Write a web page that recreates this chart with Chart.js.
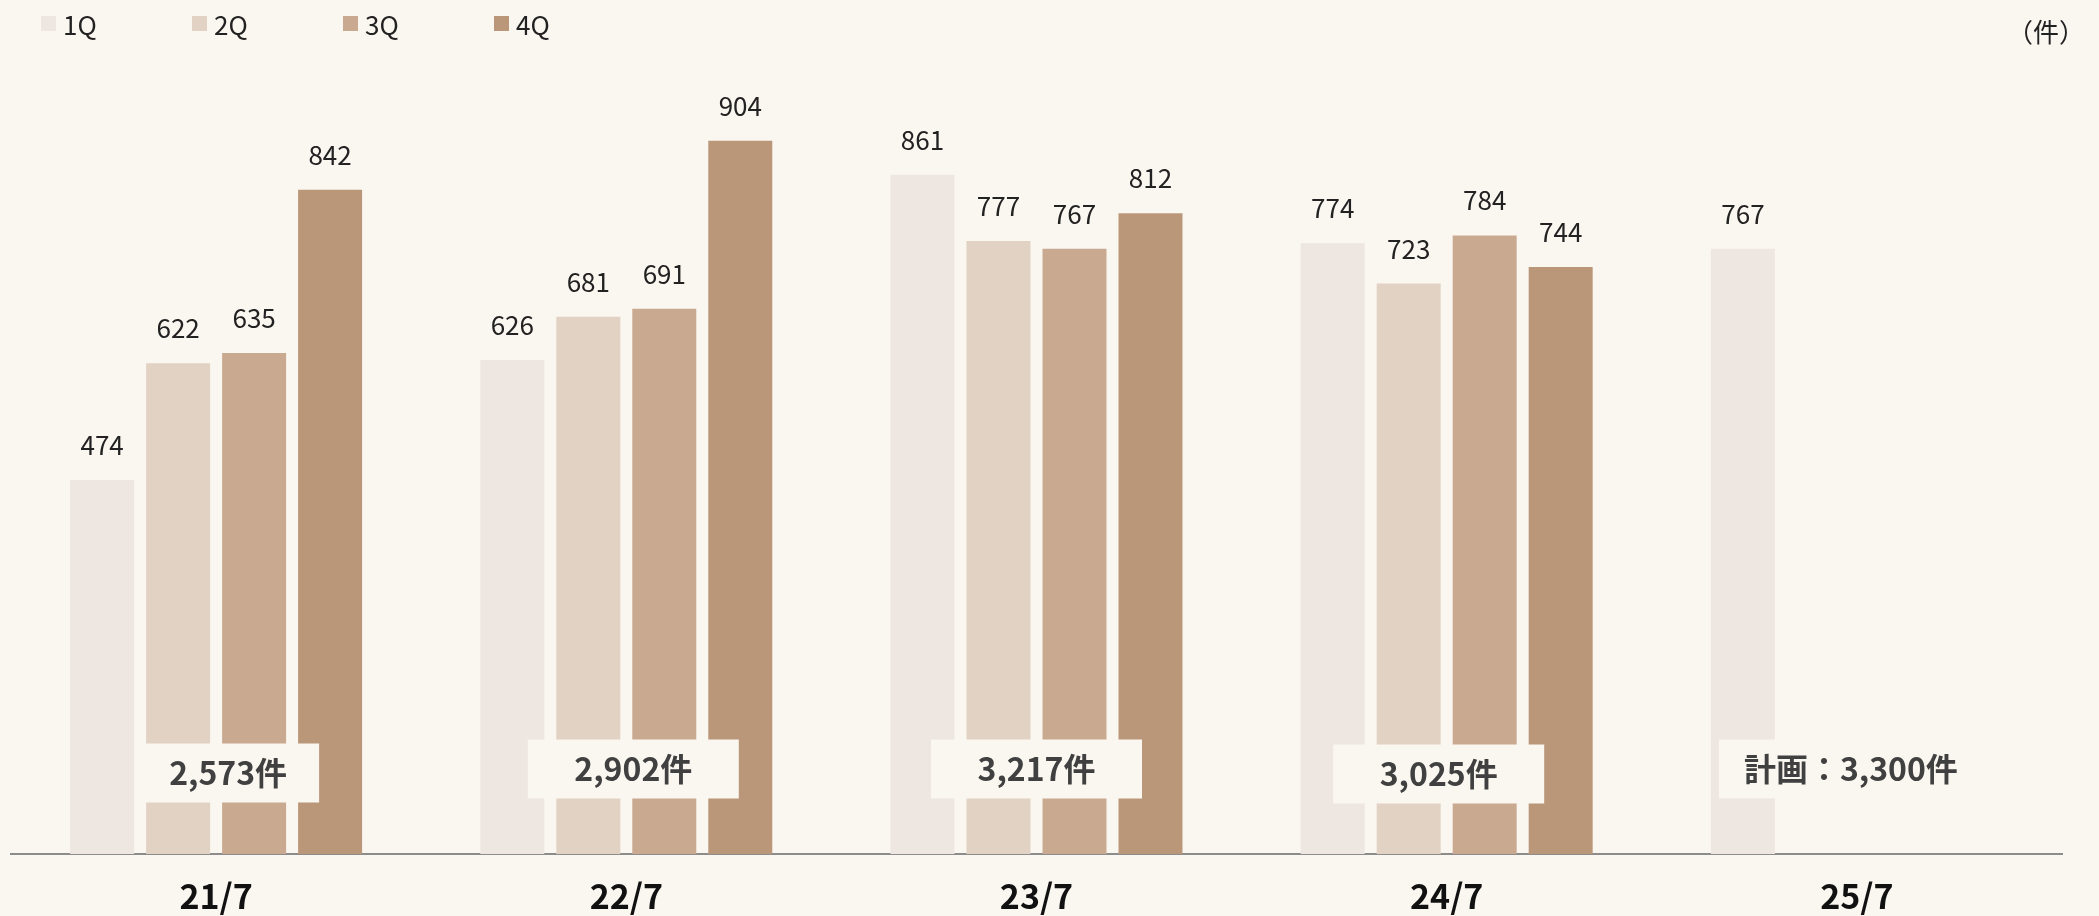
<!DOCTYPE html>
<html lang="ja">
<head>
<meta charset="UTF-8">
<title>件数推移</title>
<script src="https://cdn.jsdelivr.net/npm/chart.js@4.4.1/dist/chart.umd.min.js"></script>
<style>
  html, body { margin: 0; padding: 0; background: #faf6f0; }
  .wrap { position: relative; width: 2099px; height: 916px; font-family: "Noto Sans CJK JP", sans-serif; }
  .legend { position: absolute; left: 41px; top: 8px; display: flex; }
  .legend .item { width: 151px; height: 30px; display: flex; align-items: center; font-size: 26px; color: #222; }
  .legend .sq { width: 15px; height: 15px; margin-right: 7px; }
  .unit { position: absolute; right: 14px; top: 12px; font-size: 26px; color: #222; }
  canvas { position: absolute; left: 0; top: 0; }
</style>
</head>
<body>
<div class="wrap">
  <canvas id="myChart" width="2099" height="916"></canvas>
  <div class="legend" id="legend"></div>
  <div class="unit">（件）</div>
</div>

<script>
// データ
const categories = ['21/7', '22/7', '23/7', '24/7', '25/7'];
const quarters = ['1Q', '2Q', '3Q', '4Q'];
const q1 = [474, 626, 861, 774, 767];
const q2 = [622, 681, 777, 723, null];
const q3 = [635, 691, 767, 784, null];
const q4 = [842, 904, 812, 744, null];
const totals = [2573, 2902, 3217, 3025, 3300];
const totalPrefix = ['', '', '', '', '計画：'];

const colors = ['#eee7e1', '#e2d2c4', '#c9aa91', '#bb977a'];
const bg = '#faf6f0';
const font = '"Noto Sans CJK JP", sans-serif';

// 凡例 (HTML)
const legend = document.getElementById('legend');
quarters.forEach((q, i) => {
    const item = document.createElement('div');
    item.className = 'item';
    const sq = document.createElement('span');
    sq.className = 'sq';
    sq.style.background = colors[i];
    item.appendChild(sq);
    item.appendChild(document.createTextNode(q));
    legend.appendChild(item);
});

// 棒の上の数値と合計ボックス
const labelsPlugin = {
    id: 'labels',
    afterDatasetsDraw(chart, args, opts) {
        const ctx = chart.ctx;
        ctx.save();
        ctx.fillStyle = '#222';
        ctx.font = '26px ' + font;
        ctx.textAlign = 'center';
        ctx.textBaseline = 'alphabetic';
        chart.data.datasets.forEach((ds, di) => {
            const meta = chart.getDatasetMeta(di);
            meta.data.forEach((bar, i) => {
                if (ds.data[i] == null) return;
                ctx.fillText(ds.data[i], bar.x, bar.y - 25);
            });
        });

        // 合計
        const xs = chart.scales.x;
        ctx.font = 'bold 32px ' + font;
        ctx.textBaseline = 'middle';
        totals.forEach((t, i) => {
            const text = totalPrefix[i] + t.toLocaleString('en-US') + '件';
            const cx = xs.getPixelForValue(i) + opts.shift[i];
            const cy = chart.chartArea.bottom - 85 + opts.drop[i];
            const w = opts.width[i] || Math.max(211, ctx.measureText(text).width + 50);
            ctx.fillStyle = bg;
            ctx.fillRect(cx - w / 2, cy - 29.5, w, 59);
            ctx.fillStyle = '#404040';
            ctx.fillText(text, cx, cy);
        });
        ctx.restore();
    }
};

const ctx = document.getElementById('myChart').getContext('2d');
const myChart = new Chart(ctx, {
    type: 'bar',
    data: {
        labels: categories,
        datasets: [q1, q2, q3, q4].map((d, i) => ({
            label: quarters[i],
            data: d,
            backgroundColor: colors[i],
            borderWidth: 0,
            categoryPercentage: 0.741,
            barPercentage: 0.842
        }))
    },
    options: {
        responsive: false,
        animation: false,
        devicePixelRatio: 1,
        layout: { padding: { left: 11, right: 37, top: 65, bottom: 0 } },
        plugins: {
            legend: { display: false },
            tooltip: { enabled: false },
            labels: {
                shift: [12, 7, 0, -8, -6],
                drop: [4, 0, 0, 5, 0],
                width: [182, 0, 0, 0, 0]
            }
        },
        scales: {
            x: {
                grid: { display: false, drawTicks: false },
                border: { display: true, color: '#8c8c8c', width: 2 },
                ticks: {
                    color: '#111',
                    font: { family: font, size: 34, weight: 'bold' },
                    padding: 22
                },
                afterFit(scale) { scale.height = 62; }
            },
            y: {
                display: false,
                min: 0,
                max: 1000
            }
        }
    },
    plugins: [labelsPlugin]
});
</script>
</body>
</html>
